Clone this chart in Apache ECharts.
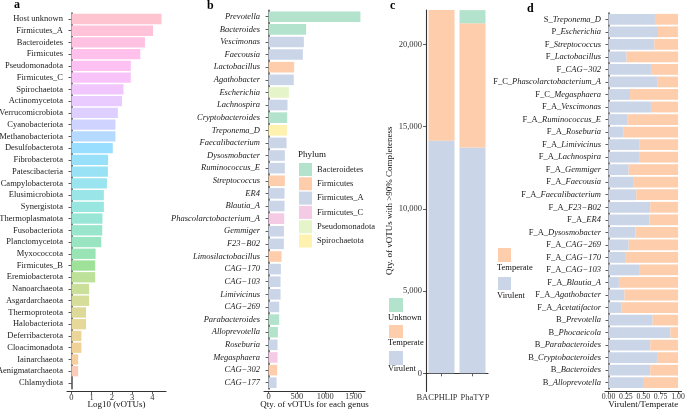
<!DOCTYPE html>
<html><head><meta charset="utf-8">
<script src="https://cdn.jsdelivr.net/npm/echarts@6/dist/echarts.min.js"></script>
<style>html,body{margin:0;padding:0;background:#fff}#c{width:685px;height:411px}</style>
</head><body><div id="c"></div>
<script>
// ---------- DATA ----------
const phylaA = ['Host unknown','Firmicutes_A','Bacteroidetes','Firmicutes','Pseudomonadota','Firmicutes_C','Spirochaetota','Actinomycetota','Verrucomicrobiota','Cyanobacteriota','Methanobacteriota','Desulfobacterota','Fibrobacterota','Patescibacteria','Campylobacterota','Elusimicrobiota','Synergistota','Thermoplasmatota','Fusobacteriota','Planctomycetota','Myxococcota','Firmicutes_B','Eremiobacterota','Nanoarchaeota','Asgardarchaeota','Thermoproteota','Halobacteriota','Deferribacterota','Cloacimonadota','Iainarchaeota','Aenigmatarchaeota','Chlamydiota'];
const log10A = [4.45,4.03,3.63,3.40,2.93,2.93,2.57,2.50,2.29,2.17,2.17,2.04,1.81,1.80,1.75,1.60,1.60,1.53,1.52,1.47,1.19,1.17,1.17,0.87,0.87,0.72,0.72,0.49,0.49,0.33,0.33,0];
const ticksA = [0,1,2,3,4];

const genusB = ['Prevotella','Bacteroides','Vescimonas','Faecousia','Lactobacillus','Agathobacter','Escherichia','Lachnospira','Cryptobacteroides','Treponema_D','Faecalibacterium','Dysosmobacter','Ruminococcus_E','Streptococcus','ER4','Blautia_A','Phascolarctobacterium_A','Gemmiger','F23\u2212B02','Limosilactobacillus','CAG\u2212170','CAG\u2212103','Limivicinus','CAG\u2212269','Parabacteroides','Alloprevotella','Roseburia','Megasphaera','CAG\u2212302','CAG\u2212177'];
const countB = [1620,662,622,604,451,445,357,334,328,322,317,287,287,287,281,281,275,270,270,229,217,211,211,187,187,164,158,158,152,141];
const phylumOfB = ['Bacteroidetes','Bacteroidetes','Firmicutes_A','Firmicutes_A','Firmicutes','Firmicutes_A','Pseudomonadota','Firmicutes_A','Bacteroidetes','Spirochaetota','Firmicutes_A','Firmicutes_A','Firmicutes_A','Firmicutes','Firmicutes_A','Firmicutes_A','Firmicutes_C','Firmicutes_A','Firmicutes_A','Firmicutes','Firmicutes_A','Firmicutes_A','Firmicutes_A','Firmicutes_A','Bacteroidetes','Bacteroidetes','Firmicutes_A','Firmicutes_C','Firmicutes','Firmicutes_A'];
const phylumLegendB = ['Bacteroidetes','Firmicutes','Firmicutes_A','Firmicutes_C','Pseudomonadota','Spirochaetota'];
const ticksB = [0,500,1000,1500];

const methodsC = ['BACPHLIP','PhaTYP'];
const virulentC = [14140,13730];
const temperateC = [7950,7550];
const unknownC = [0,800];
const ticksC = [0,5000,10000,15000,20000];

const genusD = ['S_Treponema_D','P_Escherichia','F_Streptococcus','F_Lactobacillus','F_CAG\u2212302','F_C_Phascolarctobacterium_A','F_C_Megasphaera','F_A_Vescimonas','F_A_Ruminococcus_E','F_A_Roseburia','F_A_Limivicinus','F_A_Lachnospira','F_A_Gemmiger','F_A_Faecousia','F_A_Faecalibacterium','F_A_F23\u2212B02','F_A_ER4','F_A_Dysosmobacter','F_A_CAG\u2212269','F_A_CAG\u2212170','F_A_CAG\u2212103','F_A_Blautia_A','F_A_Agathobacter','F_A_Acetatifactor','B_Prevotella','B_Phocaeicola','B_Parabacteroides','B_Cryptobacteroides','B_Bacteroides','B_Alloprevotella'];
const virulentFracD = [0.668,0.712,0.659,0.26,0.61,0.70,0.31,0.61,0.27,0.22,0.45,0.44,0.29,0.365,0.40,0.60,0.59,0.39,0.29,0.25,0.44,0.15,0.23,0.19,0.635,0.89,0.60,0.71,0.60,0.51];
const ticksD = [0,0.25,0.5,0.75,1];

// ---------- STYLE ----------
const FONT = 'Liberation Serif';
const PAL = {Bacteroidetes:'#B3E2CD',Firmicutes:'#FDCDAC',Firmicutes_A:'#CBD5E8',Firmicutes_C:'#F4CAE4',Pseudomonadota:'#E6F5C9',Spirochaetota:'#FFF2AE'};
const C_VIR = '#CBD5E8', C_TEMP = '#FDCDAC', C_UNK = '#B3E2CD';

function hcl2rgb(h, c, l, alpha) {
  const hr = h * Math.PI / 180;
  const u = c * Math.cos(hr), v = c * Math.sin(hr);
  const Xn = 95.047, Yn = 100, Zn = 108.883;
  const den = Xn + 15 * Yn + 3 * Zn;
  const un = 4 * Xn / den, vn = 9 * Yn / den;
  const Y = l > 8 ? Yn * Math.pow((l + 16) / 116, 3) : Yn * l / 903.3;
  const up = u / (13 * l) + un, vp = v / (13 * l) + vn;
  const X = Y * 9 * up / (4 * vp);
  const Z = Y * (12 - 3 * up - 20 * vp) / (4 * vp);
  const x = X / 100, y = Y / 100, z = Z / 100;
  let r = 3.2404542 * x - 1.5371385 * y - 0.4985314 * z;
  let g = -0.9692660 * x + 1.8760108 * y + 0.0415560 * z;
  let b = 0.0556434 * x - 0.2040259 * y + 1.0572252 * z;
  const gam = t => { t = t <= 0.0031308 ? 12.92 * t : 1.055 * Math.pow(t, 1 / 2.4) - 0.055; return Math.max(0, Math.min(1, t)) * 255; };
  const mix = t => Math.round(alpha * t + (1 - alpha) * 255);
  return 'rgb(' + mix(gam(r)) + ',' + mix(gam(g)) + ',' + mix(gam(b)) + ')';
}
const nA = phylaA.length;
const colorA = i => hcl2rgb((15 + (nA - 1 - i) * 360 / nA) % 360, 100, 65, 0.4);

const axisLineStyle = {color: '#333', width: 1.1};
const tickStyle = {show: true, length: 3, lineStyle: {color: '#333', width: 0.8}};
const tickLbl = {fontFamily: FONT, fontSize: 8.5, color: '#333'};
const nameStyle = {fontFamily: FONT, fontSize: 9, color: '#111'};

function splitD(s) {
  const m = s.match(/^((?:[A-Z]_)+)(.*)$/);
  return m ? '{n|' + m[1] + '}{i|' + m[2] + '}' : '{i|' + s + '}';
}

const chart = echarts.init(document.getElementById('c'), null, {renderer: 'canvas'});

const seriesB = phylumLegendB.map(p => ({
  type: 'bar', name: p, xAxisIndex: 1, yAxisIndex: 1, stack: 'b',
  barCategoryGap: '16%', itemStyle: {color: PAL[p]},
  data: countB.map((v, i) => phylumOfB[i] === p ? v : '-'),
  emphasis: {disabled: true}
}));

const xName = (txt) => ({name: txt, nameLocation: 'middle', nameGap: 9, nameMoveOverlap: false, nameTextStyle: nameStyle});

const option = {
  animation: false,
  textStyle: {fontFamily: FONT},
  grid: [
    {left: 67, top: 13.1, width: 99, height: 375.7, outerBoundsMode: 'none', containLabel: false},
    {left: 264, top: 10.4, width: 101, height: 378.6, outerBoundsMode: 'none', containLabel: false},
    {left: 426, top: 10, width: 62, height: 381.5, outerBoundsMode: 'none', containLabel: false},
    {left: 605, top: 13, width: 76.5, height: 376, outerBoundsMode: 'none', containLabel: false}
  ],
  legend: {
    data: phylumLegendB, orient: 'vertical', left: 299, top: 163, padding: 0,
    itemWidth: 13, itemHeight: 13, itemGap: 1.3, icon: 'rect', selectedMode: false,
    textStyle: {fontFamily: FONT, fontSize: 8.5, color: '#222'}
  },
  xAxis: [
    Object.assign({type: 'value', gridIndex: 0, min: -0.222, max: 4.67, offset: 2.5, splitLine: {show: false},
      axisLine: {show: true, lineStyle: axisLineStyle}, axisTick: Object.assign({customValues: ticksA}, tickStyle),
      axisLabel: Object.assign({customValues: ticksA, margin: 1.5, formatter: v => String(v)}, tickLbl)}, xName('Log10 (vOTUs)')),
    Object.assign({type: 'value', gridIndex: 1, min: -81, max: 1701, offset: 2, splitLine: {show: false},
      axisLine: {show: true, lineStyle: axisLineStyle}, axisTick: Object.assign({customValues: ticksB}, tickStyle),
      axisLabel: Object.assign({customValues: ticksB, margin: 1.5, formatter: v => String(v)}, tickLbl)}, xName('Qty. of vOTUs for each genus')),
    {type: 'category', gridIndex: 2, data: methodsC,
      axisLine: {show: true, lineStyle: axisLineStyle}, axisTick: Object.assign({alignWithLabel: true}, tickStyle),
      axisLabel: Object.assign({margin: 1.5, interval: 0, hideOverlap: false,
        formatter: (v, i) => i === 0 ? '{l|' + v + '}' : '{r|' + v + '}',
        rich: {l: {fontFamily: FONT, fontSize: 8.5, color: '#333', padding: [0, 9, 0, 0]},
               r: {fontFamily: FONT, fontSize: 8.5, color: '#333', padding: [0, 0, 0, 5]}}}, tickLbl)},
    Object.assign({type: 'value', gridIndex: 3, min: -0.05, max: 1.05, offset: 2, splitLine: {show: false},
      axisLine: {show: true, lineStyle: axisLineStyle}, axisTick: Object.assign({customValues: ticksD}, tickStyle),
      axisLabel: Object.assign({customValues: ticksD, margin: 1.5, formatter: v => v.toFixed(2)}, tickLbl, {fontSize: 7.8})}, xName('Virulent/Temperate'))
  ],
  yAxis: [
    {type: 'category', gridIndex: 0, data: phylaA, inverse: true,
      axisLine: {show: true, lineStyle: {color: '#555', width: 1.6}}, axisTick: Object.assign({alignWithLabel: true}, tickStyle),
      axisLabel: Object.assign({interval: 0, margin: 4}, tickLbl, {fontSize: 8.5, color: '#222'})},
    {type: 'category', gridIndex: 1, data: genusB, inverse: true,
      axisLine: {show: true, lineStyle: {color: '#555', width: 1.6}}, axisTick: Object.assign({alignWithLabel: true}, tickStyle),
      axisLabel: Object.assign({interval: 0, margin: 4}, tickLbl, {fontSize: 8.5, fontStyle: 'italic', color: '#222'})},
    {type: 'value', gridIndex: 2, min: -1104, max: 22087, splitLine: {show: false},
      axisLine: {show: true, lineStyle: axisLineStyle}, axisTick: Object.assign({customValues: ticksC}, tickStyle),
      axisLabel: Object.assign({customValues: ticksC, margin: 4, formatter: v => v.toLocaleString('en-US')}, tickLbl),
      name: 'Qty. of vOTUs with >90% Completeness', nameLocation: 'middle', nameGap: 32, nameRotate: 90, nameMoveOverlap: false,
      nameTextStyle: nameStyle},
    {type: 'category', gridIndex: 3, data: genusD, inverse: true,
      axisLine: {show: true, lineStyle: {color: '#555', width: 1.6}}, axisTick: Object.assign({alignWithLabel: true}, tickStyle),
      axisLabel: {interval: 0, margin: 4, formatter: splitD,
        rich: {n: {fontFamily: FONT, fontSize: 8.5, color: '#222'}, i: {fontFamily: FONT, fontSize: 8.5, fontStyle: 'italic', color: '#222'}}}}
  ],
  series: [
    {type: 'bar', xAxisIndex: 0, yAxisIndex: 0, barCategoryGap: '12%',
      data: log10A.map((v, i) => ({value: v, itemStyle: {color: colorA(i)}})), emphasis: {disabled: true}},
    ...seriesB,
    {type: 'bar', name: 'Virulent', xAxisIndex: 2, yAxisIndex: 2, stack: 'c', barWidth: 26, itemStyle: {color: C_VIR}, data: virulentC},
    {type: 'bar', name: 'Temperate', xAxisIndex: 2, yAxisIndex: 2, stack: 'c', barWidth: 26, itemStyle: {color: C_TEMP}, data: temperateC},
    {type: 'bar', name: 'Unknown', xAxisIndex: 2, yAxisIndex: 2, stack: 'c', barWidth: 26, itemStyle: {color: C_UNK}, data: unknownC},
    {type: 'bar', name: 'Virulent', xAxisIndex: 3, yAxisIndex: 3, stack: 'd', barCategoryGap: '14%', itemStyle: {color: C_VIR}, data: virulentFracD},
    {type: 'bar', name: 'Temperate', xAxisIndex: 3, yAxisIndex: 3, stack: 'd', barCategoryGap: '14%', itemStyle: {color: C_TEMP}, data: virulentFracD.map(v => 1 - v)}
  ],
  graphic: [
    {type: 'text', x: 14, y: 5, style: {text: 'a', font: 'bold 12px ' + FONT, fill: '#000', textVerticalAlign: 'middle', verticalAlign: 'middle'}},
    {type: 'text', x: 207, y: 6, style: {text: 'b', font: 'bold 12px ' + FONT, fill: '#000', textVerticalAlign: 'middle', verticalAlign: 'middle'}},
    {type: 'text', x: 390, y: 6, style: {text: 'c', font: 'bold 12px ' + FONT, fill: '#000', textVerticalAlign: 'middle', verticalAlign: 'middle'}},
    {type: 'text', x: 527, y: 9, style: {text: 'd', font: 'bold 12px ' + FONT, fill: '#000', textVerticalAlign: 'middle', verticalAlign: 'middle'}},
    {type: 'text', x: 298, y: 155, style: {text: 'Phylum', font: '9px ' + FONT, fill: '#111', textVerticalAlign: 'middle', verticalAlign: 'middle'}},
    // legend c
    {type: 'rect', shape: {x: 389, y: 298, width: 14, height: 14}, style: {fill: C_UNK}},
    {type: 'text', x: 388, y: 317.5, style: {text: 'Unknown', font: '8.5px ' + FONT, fill: '#111', textVerticalAlign: 'middle', verticalAlign: 'middle'}},
    {type: 'rect', shape: {x: 389, y: 325, width: 14, height: 13}, style: {fill: C_TEMP}},
    {type: 'text', x: 388, y: 343, style: {text: 'Temperate', font: '8.5px ' + FONT, fill: '#111', textVerticalAlign: 'middle', verticalAlign: 'middle'}},
    {type: 'rect', shape: {x: 389, y: 351, width: 14, height: 14}, style: {fill: C_VIR}},
    {type: 'text', x: 388, y: 368.5, style: {text: 'Virulent', font: '8.5px ' + FONT, fill: '#111', textVerticalAlign: 'middle', verticalAlign: 'middle'}},
    // legend d
    {type: 'rect', shape: {x: 498, y: 248, width: 13, height: 14}, style: {fill: C_TEMP}},
    {type: 'text', x: 497, y: 267.5, style: {text: 'Temperate', font: '8.5px ' + FONT, fill: '#111', textVerticalAlign: 'middle', verticalAlign: 'middle'}},
    {type: 'rect', shape: {x: 498, y: 277, width: 13, height: 13}, style: {fill: C_VIR}},
    {type: 'text', x: 497, y: 296, style: {text: 'Virulent', font: '8.5px ' + FONT, fill: '#111', textVerticalAlign: 'middle', verticalAlign: 'middle'}}
  ]
};
chart.setOption(option);
</script></body></html>
